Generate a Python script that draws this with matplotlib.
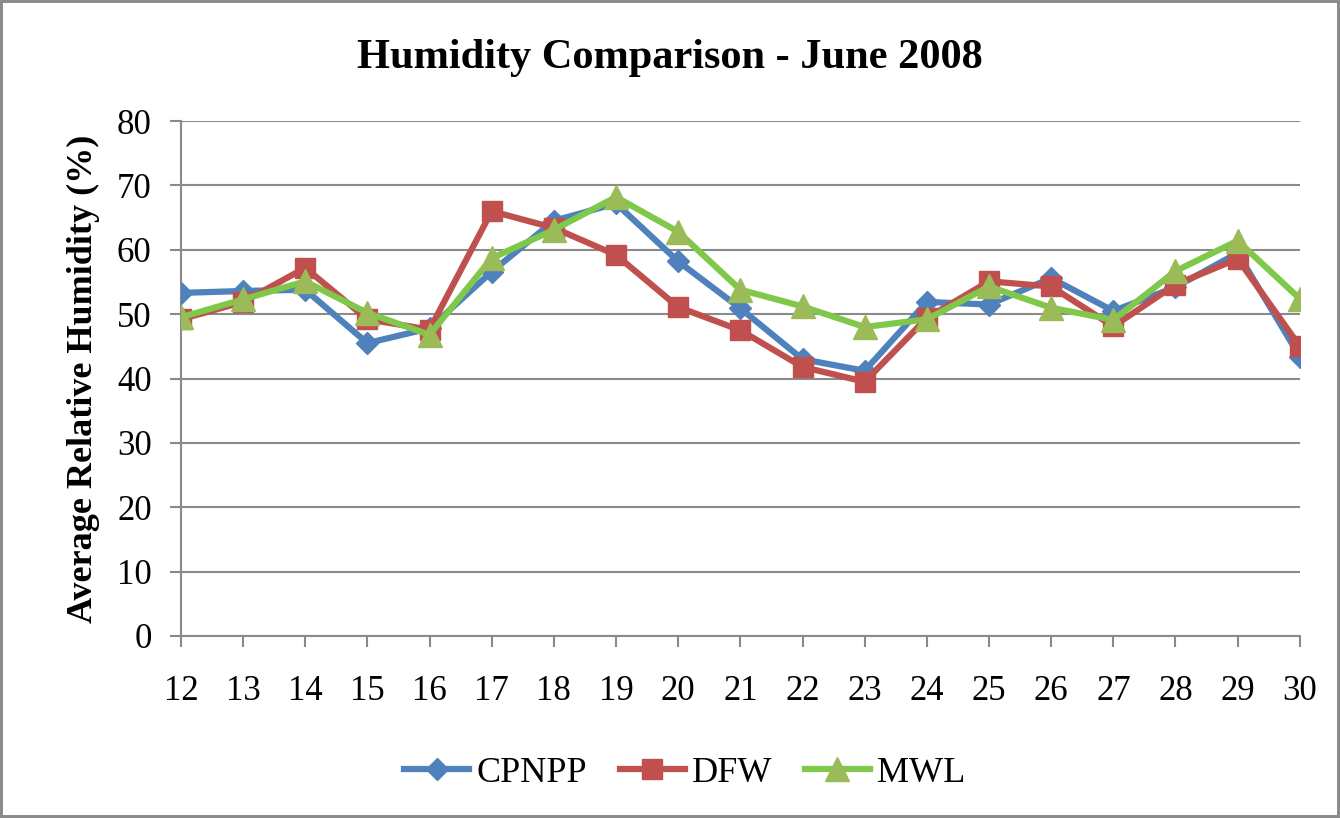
import numpy as np
import matplotlib.pyplot as plt

days = list(range(12, 31))
cpnpp = [53.3, 53.6, 53.8, 45.5, 47.8, 56.6, 64.5, 67.2, 58.2, 50.9, 43.0, 41.2,
         51.9, 51.5, 55.6, 50.5, 54.2, 59.5, 43.4]
dfw = [49.2, 51.9, 57.2, 49.2, 47.6, 66.0, 63.4, 59.2, 51.1, 47.5, 41.8, 39.5,
       49.4, 55.1, 54.3, 48.1, 54.6, 58.6, 45.0]
mwl = [49.5, 52.3, 55.1, 50.2, 46.8, 58.7, 63.1, 68.2, 62.8, 53.8, 51.2, 48.0,
       49.2, 54.3, 51.0, 49.1, 56.7, 61.4, 52.4]
yticks = list(range(0, 90, 10))

plt.rcParams['font.family'] = ['Liberation Serif', 'DejaVu Serif']

fig = plt.figure(figsize=(13.4, 8.18), dpi=100)
fig.patch.set_edgecolor('#8c8c8c')
fig.patch.set_linewidth(3)
ax = fig.add_axes([0.135, 0.2225, 0.835, 0.6295])

ax.plot(days, cpnpp, color='#4F81BD', lw=4.5, marker='D', ms=11,
        mfc='#4F81BD', mec='#4F81BD', label='CPNPP', zorder=3)
ax.plot(days, dfw, color='#C0504D', lw=4.5, marker='s', ms=15,
        mfc='#C0504D', mec='#C0504D', label='DFW', zorder=4)
ax.plot(days, mwl, color='#7FC84A', lw=4.5, marker='^', ms=17,
        mfc='#9BBB59', mec='#9BBB59', label='MWL', zorder=5)

ax.set_xlim(12, 30)
ax.set_ylim(0, 80)
ax.set_xticks(days)
ax.set_yticks(yticks)
ax.grid(axis='y', color='#8a8a8a', lw=1.5)
ax.set_axisbelow(True)
for s in ['top', 'right']:
    ax.spines[s].set_visible(False)
for s in ['left', 'bottom']:
    ax.spines[s].set_color('#8a8a8a')
    ax.spines[s].set_linewidth(1.5)
ax.tick_params(axis='both', colors='#8a8a8a', labelcolor='black',
               labelsize=25, length=8, width=1.5)
ax.tick_params(axis='x', pad=20)
ax.tick_params(axis='y', pad=13)

ax.set_ylabel('Average Relative Humidity (%)', fontsize=26, fontweight='bold',
              labelpad=12)
fig.suptitle('Humidity Comparison - June 2008', fontsize=30.5, fontweight='bold',
             y=0.952)

fig.legend(loc='center', bbox_to_anchor=(0.511, 0.055), ncol=3, frameon=False,
           fontsize=26, numpoints=1, handlelength=1.8, handletextpad=0.2,
           columnspacing=0.9)

fig.savefig('out.png', dpi=100)
